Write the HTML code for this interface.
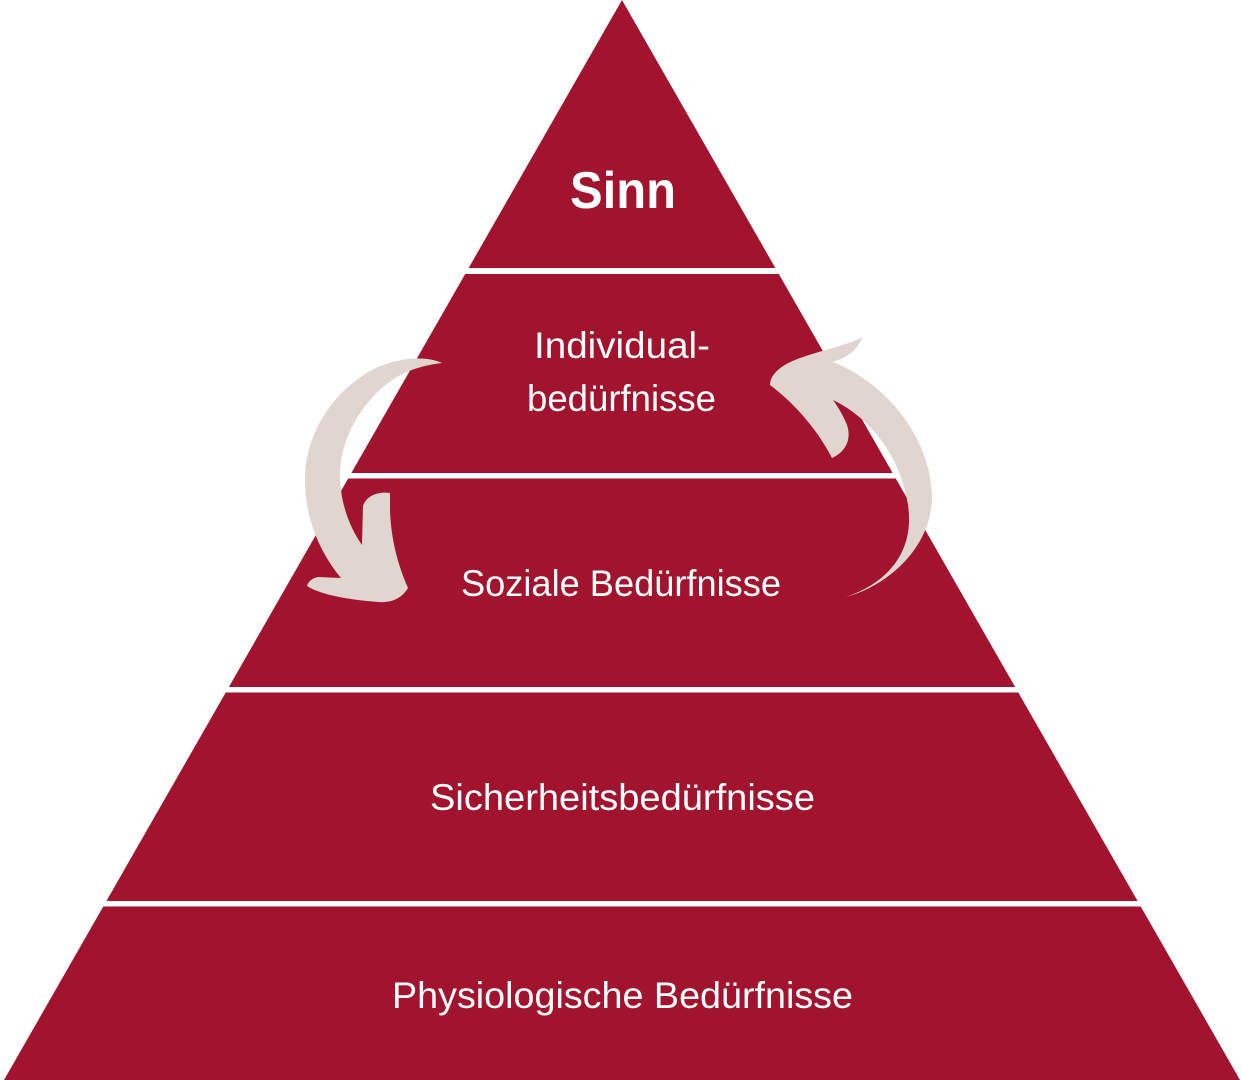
<!DOCTYPE html>
<html>
<head>
<meta charset="utf-8">
<style>
  html, body { margin: 0; padding: 0; background: #ffffff; }
  body { width: 1241px; height: 1080px; overflow: hidden; }
  svg { display: block; }
  text { font-family: "Liberation Sans", "DejaVu Sans", sans-serif; fill: #ffffff; }
</style>
</head>
<body>
<svg width="1241" height="1080" viewBox="0 0 1241 1080" xmlns="http://www.w3.org/2000/svg">
  <rect x="0" y="0" width="1241" height="1080" fill="#ffffff"/>
  <!-- pyramid -->
  <polygon points="622,0 1240,1080 4,1080" fill="#A2142E"/>
  <!-- separators -->
  <rect x="0" y="268" width="1241" height="6" fill="#ffffff"/>
  <rect x="0" y="473" width="1241" height="5.5" fill="#ffffff"/>
  <rect x="0" y="687" width="1241" height="5.5" fill="#ffffff"/>
  <rect x="0" y="901" width="1241" height="5.5" fill="#ffffff"/>

  <!-- labels -->
  <text x="623" y="208" font-size="52" font-weight="bold" text-anchor="middle" textLength="106" lengthAdjust="spacingAndGlyphs">Sinn</text>
  <text x="622" y="358" font-size="37" text-anchor="middle" textLength="176" lengthAdjust="spacingAndGlyphs">Individual-</text>
  <text x="621.5" y="411" font-size="37" text-anchor="middle" textLength="189" lengthAdjust="spacingAndGlyphs">bedürfnisse</text>
  <text x="621" y="596" font-size="37" text-anchor="middle" textLength="320" lengthAdjust="spacingAndGlyphs">Soziale Bedürfnisse</text>
  <text x="622.5" y="810" font-size="37" text-anchor="middle" textLength="385" lengthAdjust="spacingAndGlyphs">Sicherheitsbedürfnisse</text>
  <text x="622.5" y="1008" font-size="37" text-anchor="middle" textLength="461" lengthAdjust="spacingAndGlyphs">Physiologische Bedürfnisse</text>

  <!-- left arrow -->
  <path fill="#E1D5CF" d="
    M 442 363
    C 425 355, 395 358, 372 370
    C 335 390, 307 430, 305 475
    C 304 515, 318 550, 341 578
    L 318 577
    C 312 578, 308 582, 307 586
    C 318 593, 340 599, 378 602
    C 392 603, 402 598, 408 588
    C 398 565, 391 540, 390 510
    L 390 493
    C 378 491, 366 496, 363 506
    L 362 545
    C 348 525, 340 500, 340 475
    C 340 440, 360 405, 388 383
    C 405 370, 425 365, 442 363 Z"/>

  <!-- right arrow -->
  <path fill="#E1D5CF" d="
    M 862 337
    C 850 345, 820 350, 795 360
    C 780 366, 770 375, 770 385
    C 790 400, 815 425, 832 458
    C 845 452, 852 440, 847 425
    C 843 415, 838 407, 833 400
    C 870 418, 900 455, 908 505
    C 914 545, 895 580, 846 597
    C 890 585, 933 545, 932 495
    C 930 440, 890 385, 833 362
    C 848 357, 858 350, 862 337 Z"/>
</svg>
</body>
</html>
